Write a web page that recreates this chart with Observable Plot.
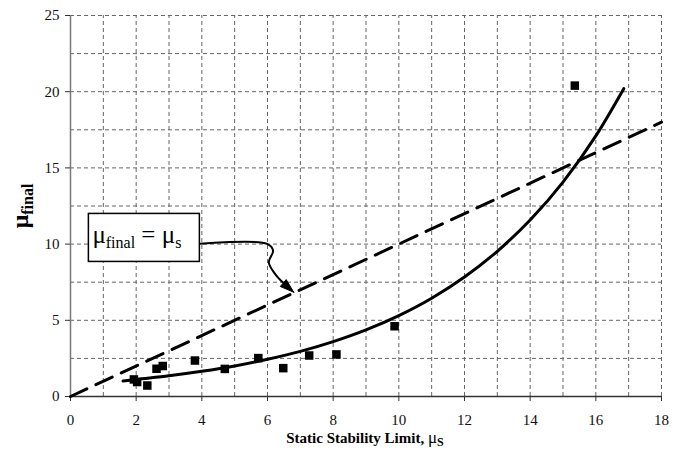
<!DOCTYPE html>
<html><head><meta charset="utf-8">
<script src="https://cdn.jsdelivr.net/npm/d3@7"></script>
<script src="https://cdn.jsdelivr.net/npm/@observablehq/plot@0.6"></script>
<style>body{margin:0;background:#fff} svg{display:block} svg text{font-family:"Liberation Serif","Times New Roman",Times,"DejaVu Serif",serif}</style>
</head><body><div id="chart"></div>
<script>
// measured data points (squares)
const pointX = [1.93, 2.03, 2.34, 2.62, 2.81, 3.79, 4.70, 5.72, 6.48, 7.27, 8.10, 9.87, 15.36];
const pointY = [1.12, 0.95, 0.72, 1.82, 2.00, 2.36, 1.81, 2.52, 1.86, 2.69, 2.76, 4.61, 20.4];
// fitted curve
const fitX = [1.6, 2, 3, 4, 5, 6, 7, 8, 9, 10, 11, 12, 13, 14, 15, 16, 16.85];
const fitY = [1.02, 1.12, 1.36, 1.65, 2.0, 2.44, 2.96, 3.6, 4.37, 5.31, 6.45, 7.84, 9.53, 11.58, 14.07, 17.1, 20.2];
// mu_final = mu_s line
const equalX = [0, 18];
const equalY = [0, 18];
// ticks and grid
const xTicks = [0, 2, 4, 6, 8, 10, 12, 14, 16, 18];
const yTicks = [0, 5, 10, 15, 20, 25];
const xGrid = [1, 2, 3, 4, 5, 6, 7, 8, 9, 10, 11, 12, 13, 14, 15, 16, 17, 18];
const yGrid = [2.5, 5, 7.5, 10, 12.5, 15, 17.5, 20, 22.5, 25];
// annotation box and arrow (data units)
const noteBox = [{x1: 0.56, x2: 3.94, y1: 8.83, y2: 11.98}];
const arrowX = [3.94, 5.99, 6.17, 6.04, 6.19, 6.42, 6.55];
const arrowY = [10.02, 10.02, 9.58, 8.81, 8.16, 7.58, 7.38];
const headX = [6.80, 6.39, 6.57, 6.80];
const headY = [6.84, 7.22, 7.67, 6.84];

const points = pointX.map((x, i) => ({x, y: pointY[i]}));
const fit = fitX.map((x, i) => ({x, y: fitY[i]}));
const equal = equalX.map((x, i) => ({x, y: equalY[i]}));
const arrow = arrowX.map((x, i) => ({x, y: arrowY[i]}));
const head = headX.map((x, i) => ({x, y: headY[i]}));

const serif = "Liberation Serif, Times New Roman, Times, DejaVu Serif, serif";

const plot = Plot.plot({
  width: 683,
  height: 459,
  marginLeft: 70,
  marginRight: 22,
  marginTop: 15,
  marginBottom: 63,
  style: {fontFamily: serif, fontSize: "15px", color: "#111", background: "#fff"},
  x: {domain: [0, 18]},
  y: {domain: [0, 25]},
  marks: [
    Plot.ruleX(xGrid, {y1: 0, y2: 25, stroke: "#666", strokeWidth: 1, strokeDasharray: "4,3"}),
    Plot.ruleY(yGrid, {x1: 0, x2: 18, stroke: "#666", strokeWidth: 1, strokeDasharray: "4,3"}),
    Plot.ruleX([0], {y1: 0, y2: 25, stroke: "#777", strokeWidth: 1.5}),
    Plot.ruleY([0], {x1: 0, x2: 18, stroke: "#333", strokeWidth: 1.5}),
    Plot.axisX({ticks: xTicks, tickSize: 5, tickPadding: 13, label: null, tickFormat: d => d, stroke: "#333", fontFamily: serif, fontSize: 15}),
    Plot.axisY({ticks: yTicks, tickSize: 5, tickPadding: 6, label: null, tickFormat: d => d, stroke: "#333", fontFamily: serif, fontSize: 15}),
    Plot.line(equal, {x: "x", y: "y", stroke: "#000", strokeWidth: 3, strokeDasharray: "18,10"}),
    Plot.line(fit, {x: "x", y: "y", stroke: "#000", strokeWidth: 3, curve: "monotone-x"}),
    Plot.dot(points, {x: "x", y: "y", symbol: "square", r: 4.8, fill: "#000", stroke: "none"}),
    Plot.rect(noteBox, {x1: "x1", x2: "x2", y1: "y1", y2: "y2", fill: "#fff", stroke: "#000", strokeWidth: 1.5}),
    Plot.line(arrow, {x: "x", y: "y", stroke: "#000", strokeWidth: 2, curve: "catmull-rom"}),
    Plot.line(head, {x: "x", y: "y", fill: "#000", stroke: "#000", strokeWidth: 1})
  ]
});

document.getElementById("chart").appendChild(plot);

const svg = d3.select(plot);
const sx = plot.scale("x"), sy = plot.scale("y");

// annotation text
const box = noteBox[0];
const t = svg.append("text")
  .attr("x", sx.apply(box.x1) + 4)
  .attr("y", sy.apply((box.y1 + box.y2) / 2) + 6)
  .attr("text-anchor", "start")
  .attr("font-family", serif).attr("font-size", 25).attr("fill", "#000");
t.append("tspan").text("μ");
t.append("tspan").attr("font-size", 16).attr("dy", 5).text("final");
t.append("tspan").attr("dy", -5).text(" = μ");
t.append("tspan").attr("font-size", 16).attr("dy", 5).text("s");

// x label
const xl = svg.append("text")
  .attr("x", 365).attr("y", 443)
  .attr("text-anchor", "middle")
  .attr("font-family", serif).attr("font-weight", "bold").attr("font-size", 15).attr("fill", "#000");
xl.append("tspan").text("Static Stability Limit, ");
xl.append("tspan").attr("font-weight", "normal").attr("font-size", 17).text("μ");
xl.append("tspan").attr("font-size", 12).attr("dy", 3).text("S");

// y label
const yl = svg.append("text")
  .attr("transform", "translate(28,206) rotate(-90)")
  .attr("text-anchor", "middle")
  .attr("font-family", serif).attr("font-weight", "bold").attr("font-size", 24).attr("fill", "#000");
yl.append("tspan").text("μ");
yl.append("tspan").attr("font-size", 16).attr("dy", 5).text("final");
</script>
</body></html>
